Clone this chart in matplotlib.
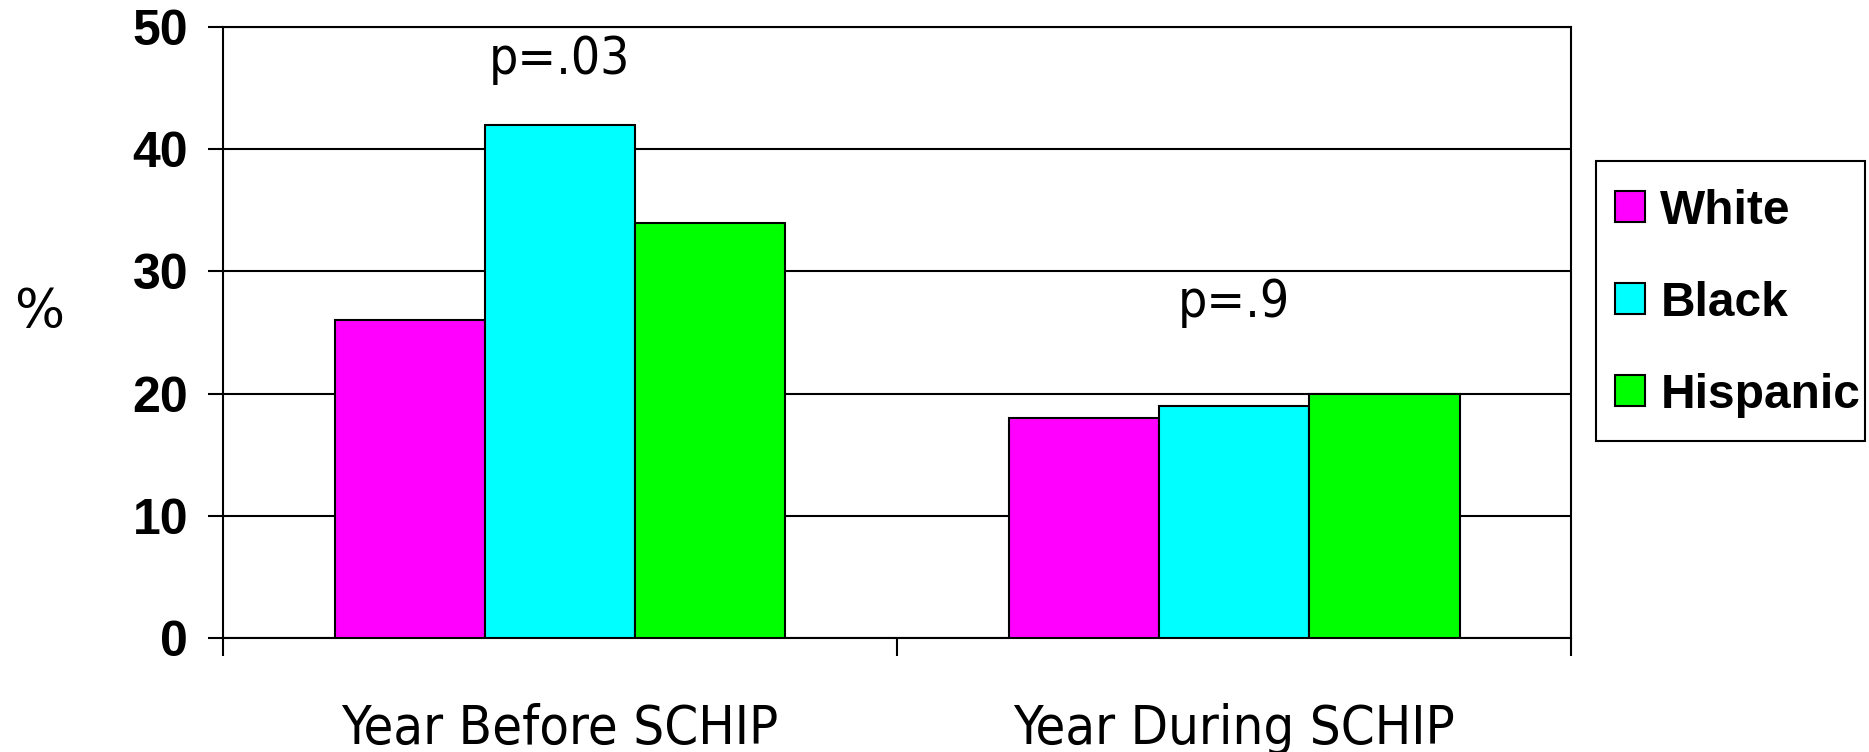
import matplotlib

matplotlib.use("Agg")
import matplotlib.pyplot as plt
from matplotlib.patches import Rectangle
import numpy as np

periods = ["Year Before SCHIP", "Year During SCHIP"]
groups = ["White", "Black", "Hispanic"]
white = [26, 18]
black = [42, 19]
hispanic = [34, 20]
p_labels = ["p=.03", "p=.9"]
p_heights = [47.3, 27.4]
colors = ["#ff00ff", "#00ffff", "#00ff00"]

fig = plt.figure(figsize=(18.69, 7.52), dpi=100)
ax = fig.add_axes([0.1193, 0.1516, 0.7213, 0.8124])

x = np.arange(len(periods))
w = 0.223
for i, (vals, name) in enumerate(zip([white, black, hispanic], groups)):
    ax.bar(x + (i - 1) * w, vals, w, color=colors[i], edgecolor="black",
           linewidth=1.5, label=name, zorder=3)

for xi, txt, h in zip(x, p_labels, p_heights):
    ax.text(xi, h, txt, ha="center", va="center", fontsize=37,
            family="DejaVu Sans", fontstretch="condensed")

ax.set_xlim(-0.5, 1.5)
ax.set_ylim(0, 50)
ax.set_yticks(range(0, 51, 10))
ax.yaxis.grid(True, color="black", linewidth=1.5, zorder=0)
ax.set_axisbelow(True)
ax.tick_params(axis="y", direction="out", length=11, width=1.5, pad=14,
               labelsize=36)
for lab in ax.get_yticklabels():
    lab.set_fontfamily("Liberation Sans")
    lab.set_fontweight("bold")

ax.set_xticks(x)
ax.set_xticklabels(periods, fontsize=39, family="DejaVu Sans",
                   fontstretch="condensed")
ax.set_xticks([-0.5, 0.5, 1.5], minor=True)
ax.tick_params(axis="x", which="major", length=0, pad=47)
ax.tick_params(axis="x", which="minor", direction="out", length=13, width=1.5)
for s in ax.spines.values():
    s.set_linewidth(1.5)

fig.text(0.021, 0.585, "%", fontsize=38, ha="center", va="center",
         family="DejaVu Sans")

# legend frame drawn separately so its box matches the original exactly
fig.patches.append(Rectangle((0.854, 0.4136), 0.144, 0.372,
                             transform=fig.transFigure, fill=False,
                             edgecolor="black", linewidth=1.5))
fig.legend(loc="center left", bbox_to_anchor=(0.864, 0.597),
           bbox_transform=fig.transFigure, borderaxespad=0, borderpad=0,
           prop={"family": "Liberation Sans", "weight": "bold", "size": 34.5},
           frameon=False, handlelength=0.63, handleheight=0.63,
           handletextpad=0.32, labelspacing=0.98)

fig.savefig("out.png", dpi=100)
